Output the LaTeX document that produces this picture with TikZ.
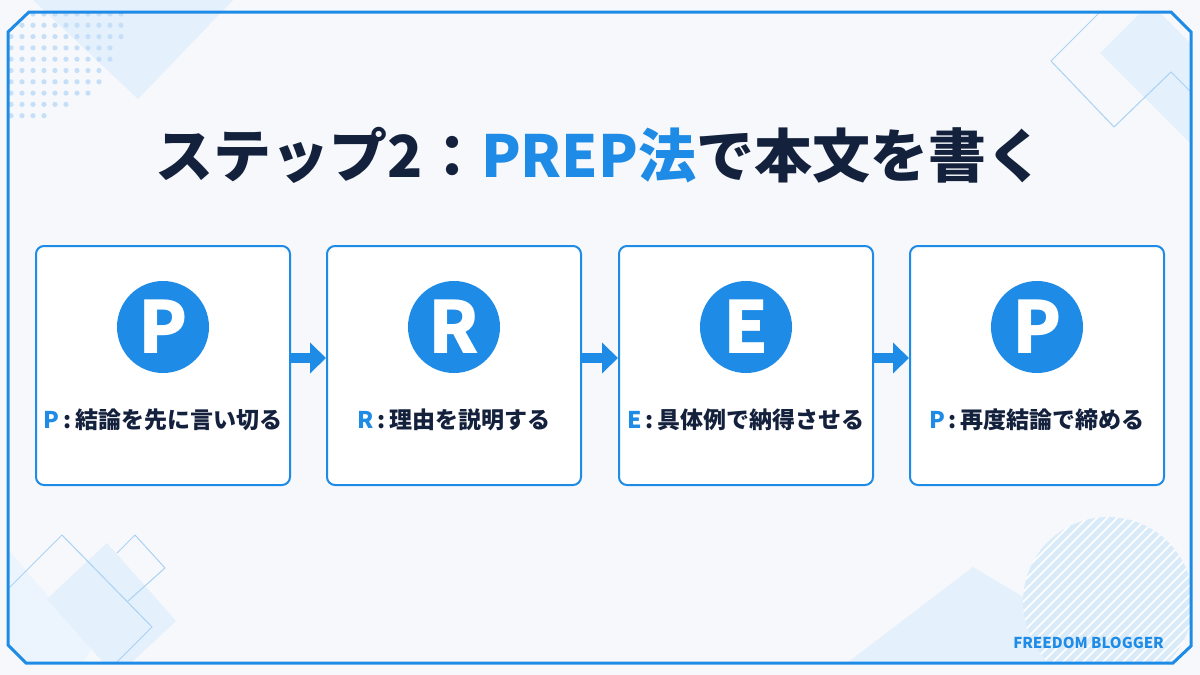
\documentclass[tikz,border=0pt]{standalone}
\usepackage{fontspec}
\setmainfont{Noto Sans CJK JP}
\usetikzlibrary{arrows.meta}

\definecolor{mainblue}{HTML}{1E8BE6}
\definecolor{ink}{HTML}{14213D}
\definecolor{paper}{HTML}{F6F8FB}
\definecolor{tint}{HTML}{E4F0FC}
\definecolor{edge}{HTML}{A9D2F4}
\definecolor{dotc}{HTML}{C4DFF7}
\definecolor{stripe}{HTML}{D9EAF9}

\tikzset{
  card/.style={draw=mainblue, line width=2pt, fill=white, rounded corners=8pt,
    minimum width=254pt, minimum height=239pt, inner sep=0pt},
  badge/.style={circle, fill=mainblue, minimum size=92pt, inner sep=0pt,
    text=white, font=\fontsize{72}{72}\selectfont\bfseries},
  caption/.style={inner sep=0pt, text=ink, font=\fontsize{23}{23}\selectfont\bfseries},
  flow/.style={draw=mainblue, line width=10pt, -{Triangle[length=16pt,width=30pt]}},
  thin edge/.style={draw=edge, line width=1pt},
}

\begin{document}
\begin{tikzpicture}[x=1pt,y=-1pt]
 	\useasboundingbox (0,0) rectangle (1200,675);
 	\fill[paper] (0,0) rectangle (1200,675);

 	% corner decorations
 	\fill[tint] (33,0) -- (233,0) -- (138,99) -- cycle;
 	\begin{scope}
 		\clip (29,12) -- (1171,12) -- (1191,32) -- (1191,646) -- (1173,663) -- (26,663) -- (8,645) -- (8,32) -- cycle;
 		\foreach \i in {1,...,11}{
 			\foreach \j in {0,...,9}{
 				\pgfmathsetmacro\dd{veclen(11*\i-10,14+11.3*\j-5)}
 				\ifdim\dd pt<118pt \fill[dotc] (11*\i,14+11.3*\j) circle (2.6pt); \fi
 			}
 		}
 		\fill[tint] (1100,53) -- (1150,3) -- (1240,93) -- (1190,143) -- cycle;
 		\draw[thin edge] (1108,4) -- (1051,61) -- (1114,127) -- (1171,72) -- (1211,112);
 		\fill[tint!70] (0,540) -- (92,648) -- (75,675) -- (0,675) -- cycle;
 		\fill[tint] (47,599) -- (107,543) -- (176,621) -- (116,677) -- cycle;
 		\draw[thin edge] (0,597) -- (62,535) -- (152,627) -- (112,667);
 		\draw[thin edge] (117,553) -- (135,535) -- (165,568) -- (128,601);
 		\fill[tint] (847,663) -- (973,567) -- (1133,663) -- cycle;
 		\begin{scope}
 			\clip (1108,602) circle (85pt);
 			\fill[white] (1108,602) circle (85pt);
 			\foreach \k in {-200,-190,...,200}
 				\draw[stripe, line width=5pt] (1008+\k,702) -- (1208+\k,502);
 		\end{scope}
 	\end{scope}
 	\draw[mainblue, line width=3pt] (29,12) -- (1171,12) -- (1191,32) -- (1191,646) -- (1173,663) -- (26,663) -- (8,645) -- (8,32) -- cycle;

 	% title
 	\node[text=ink, font=\fontsize{58}{58}\selectfont\bfseries] (title) at (600,155) {ステップ2：\textcolor{mainblue}{PREP法}で本文を書く};

 	% four steps
 	\node[card] (s1) at (163,365.5) {};
 	\node[card] (s2) at (454,365.5) {};
 	\node[card] (s3) at (746,365.5) {};
 	\node[card] (s4) at (1037,365.5) {};

 	\node[badge] (l1) at (163,327) {P};
 	\node[badge] (l2) at (454,327) {R};
 	\node[badge] (l3) at (746,327) {E};
 	\node[badge] (l4) at (1037,327) {P};

 	\node[caption] (t1) at (163,420) {\textcolor{mainblue}{P}\hspace{4pt}:\hspace{4pt}結論を先に言い切る};
 	\node[caption] (t2) at (454,420) {\textcolor{mainblue}{R}\hspace{4pt}:\hspace{4pt}理由を説明する};
 	\node[caption] (t3) at (746,420) {\textcolor{mainblue}{E}\hspace{4pt}:\hspace{4pt}具体例で納得させる};
 	\node[caption] (t4) at (1037,420) {\textcolor{mainblue}{P}\hspace{4pt}:\hspace{4pt}再度結論で締める};

 	\draw[flow] ([yshift=7.5pt]s1.east) -- ([yshift=7.5pt]s2.west);
 	\draw[flow] ([yshift=7.5pt]s2.east) -- ([yshift=7.5pt]s3.west);
 	\draw[flow] ([yshift=7.5pt]s3.east) -- ([yshift=7.5pt]s4.west);

 	\node[anchor=east, inner sep=0pt, text=mainblue, font=\fontsize{15}{15}\selectfont\bfseries] (brand) at (1164,642.5) {FREEDOM BLOGGER};
\end{tikzpicture}
\end{document}
